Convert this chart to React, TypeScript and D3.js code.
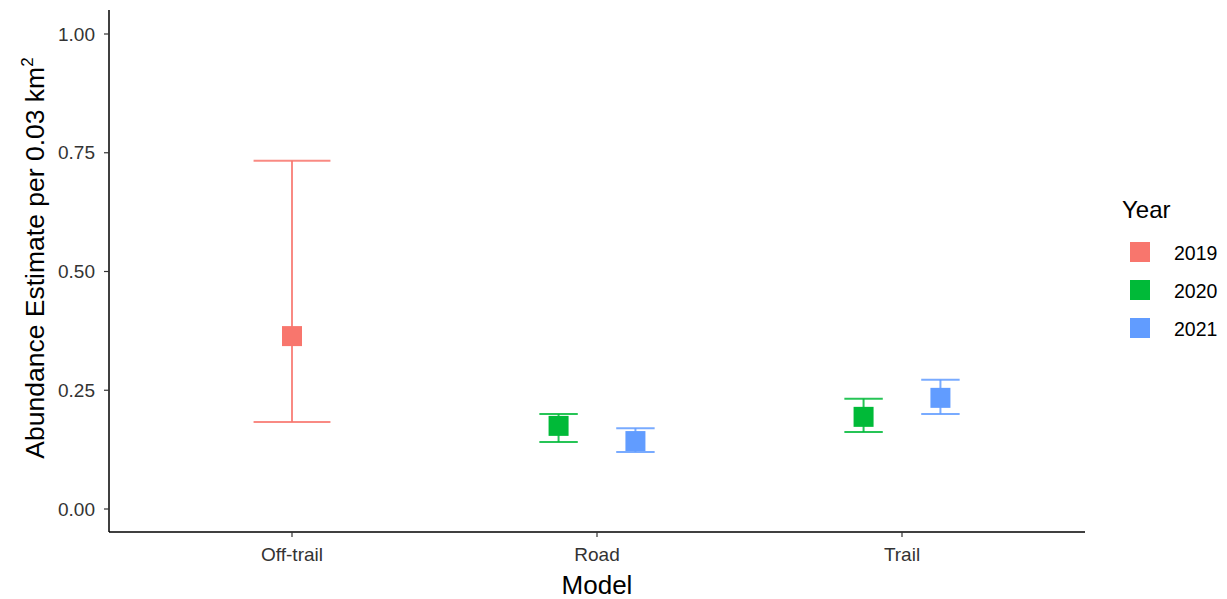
import React from "react";
import * as d3 from "d3";

const categories = ["Off-trail", "Road", "Trail"];
const years = ["2019", "2020", "2021"];
const colors = ["#F8766D", "#00BA38", "#619CFF"];
const yTicks = [0, 0.25, 0.5, 0.75, 1.0];

const rowModel = ["Off-trail", "Road", "Road", "Trail", "Trail"];
const rowYear = ["2019", "2020", "2021", "2020", "2021"];
const rowEst = [0.364, 0.175, 0.143, 0.194, 0.234];
const rowLow = [0.183, 0.141, 0.12, 0.162, 0.2];
const rowHigh = [0.733, 0.2, 0.17, 0.232, 0.272];

const W = 1227;
const H = 599;
const left = 109;
const right = 1085;
const top = 10;
const bottom = 532;

export default function App() {
  const x = d3.scalePoint<string>().domain(categories).range([left, right]).padding(0.6);
  const y = d3.scaleLinear().domain([0, 1]).range([509, 34]);
  const color = d3.scaleOrdinal<string, string>().domain(years).range(colors);
  const step = x.step();
  const dodgeW = step * 0.252;

  const rows = rowModel.map((m, i) => ({
    m,
    yr: rowYear[i],
    est: rowEst[i],
    lo: rowLow[i],
    hi: rowHigh[i],
  }));

  const groupCount = (m: string) => rows.filter((r) => r.m === m).length;
  const xPos = (r: any) => {
    const grp = rows.filter((q) => q.m === r.m);
    const n = grp.length;
    const idx = grp.indexOf(r);
    const off = (idx - (n - 1) / 2) * dodgeW;
    return (x(r.m) as number) + off;
  };

  const font = "'Liberation Sans', Arial, sans-serif";
  const sq = 20;

  return (
    <svg width={W} height={H} style={{ position: "absolute", left: 0, top: 0, background: "#fff" }} fontFamily={font}>
      <rect x={0} y={0} width={W} height={H} fill="#fff" />
      {rows.map((r, i) => {
        const cx = xPos(r);
        const n = groupCount(r.m);
        const capHalf = n === 1 ? dodgeW / 2 : dodgeW / 4;
        const c = color(r.yr);
        return (
          <g key={"e" + i} stroke={c} strokeWidth={2} strokeOpacity={0.85}>
            <line x1={cx} x2={cx} y1={y(r.lo)} y2={y(r.hi)} />
            <line x1={cx - capHalf} x2={cx + capHalf} y1={y(r.lo)} y2={y(r.lo)} />
            <line x1={cx - capHalf} x2={cx + capHalf} y1={y(r.hi)} y2={y(r.hi)} />
          </g>
        );
      })}
      {rows.map((r, i) => {
        const cx = xPos(r);
        return (
          <rect key={"p" + i} x={cx - sq / 2} y={y(r.est) - sq / 2} width={sq} height={sq} fill={color(r.yr)} />
        );
      })}
      <line x1={left} x2={left} y1={top} y2={bottom} stroke="#000" strokeWidth={1.5} />
      <line x1={left} x2={right} y1={bottom} y2={bottom} stroke="#000" strokeWidth={1.5} />
      {yTicks.map((t) => (
        <g key={"yt" + t}>
          <line x1={left - 5} x2={left} y1={y(t)} y2={y(t)} stroke="#333" strokeWidth={1.2} />
          <text x={left - 14} y={y(t)} dy="0.35em" textAnchor="end" fontSize={19} fill="#333">
            {d3.format(".2f")(t)}
          </text>
        </g>
      ))}
      {categories.map((c) => (
        <g key={"xt" + c}>
          <line x1={x(c)} x2={x(c)} y1={bottom} y2={bottom + 5} stroke="#333" strokeWidth={1.2} />
          <text x={x(c)} y={bottom + 22} dy="0.35em" textAnchor="middle" fontSize={19} fill="#333">
            {c}
          </text>
        </g>
      ))}
      <text x={(left + right) / 2} y={585} dy="0.35em" textAnchor="middle" fontSize={26} fill="#000">
        Model
      </text>
      <text transform={`translate(44, ${258}) rotate(-90)`} textAnchor="middle" fontSize={26.5} fill="#000">
        Abundance Estimate per 0.03 km
        <tspan dy={-11} fontSize={17}>2</tspan>
      </text>
      <text x={1122} y={210} dy="0.35em" fontSize={24} fill="#000">Year</text>
      {years.map((yr, i) => (
        <g key={"lg" + yr}>
          <rect x={1130} y={242 + i * 38} width={20} height={20} fill={color(yr)} />
          <text x={1174} y={253 + i * 38} dy="0.35em" fontSize={19.5} fill="#000">{yr}</text>
        </g>
      ))}
    </svg>
  );
}
